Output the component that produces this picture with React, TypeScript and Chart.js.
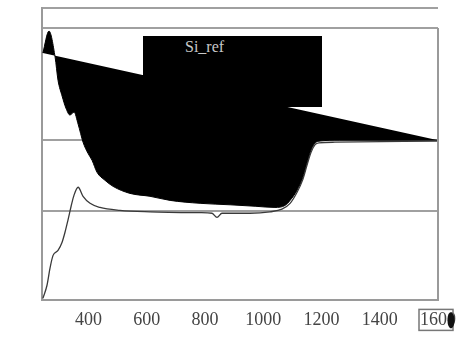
import React, { useEffect, useRef } from "react";
import { Chart, registerables } from "chart.js";

Chart.register(...registerables);

// Reference spectrum (filled shape, closed by a chord back to its first point)
const refWavelength = [
  243, 264, 285, 295, 309, 322, 336, 350, 364, 381, 398, 412, 429, 456, 484, 542,
  611, 680, 783, 886, 972, 1040, 1075, 1092, 1116, 1136, 1150, 1164, 1178, 1195, 1263, 1600,
];
const refValue = [
  84.6, 92.1, 83.2, 75.3, 69.9, 65.8, 63.4, 64.4, 60.3, 54.1, 50.3, 47.9, 43.8, 41.1, 39.0, 36.6,
  35.6, 34.2, 33.2, 32.7, 32.2, 31.8, 32.5, 34.2, 37.7, 42.1, 46.9, 51.4, 53.8, 54.5, 54.8, 54.8,
];

// Sample spectrum (thin line)
const sampleWavelength = [
  243, 257, 268, 278, 295, 309, 319, 329, 340, 350, 364, 381, 405, 439, 508, 611,
  783, 824, 841, 858, 954, 1023, 1064, 1092, 1116, 1136, 1150, 1164, 1178, 1191, 1246, 1600,
];
const sampleValue = [
  0.7, 5.1, 11.3, 15.4, 17.1, 19.9, 23.3, 27.4, 32.2, 36.0, 38.7, 35.6, 33.2, 31.8, 30.8, 30.3,
  30.0, 29.8, 28.4, 29.8, 29.8, 30.3, 31.2, 33.2, 37.0, 41.4, 46.2, 50.7, 53.3, 53.9, 54.1, 54.5,
];

const xTicks = [400, 600, 800, 1000, 1200, 1400, 1600];
const yGridValues = [0, 30.5, 54.8, 93.2, 100];
const legendLabel = "Si_ref";

export default function App() {
  const canvasRef = useRef<HTMLCanvasElement | null>(null);

  useEffect(() => {
    if (!canvasRef.current) return;
    const refPts = refWavelength.map((x, i) => ({ x, y: refValue[i] }));
    const samplePts = sampleWavelength.map((x, i) => ({ x, y: sampleValue[i] }));
    const chordPts = [refPts[0], refPts[refPts.length - 1]];

    const framePlugin = {
      id: "frame",
      afterDraw(chart: any) {
        const { ctx, chartArea, scales } = chart;
        const yTop = scales.y.getPixelForValue(yGridValues[3]);
        ctx.save();
        ctx.strokeStyle = "#9a9a9a";
        ctx.lineWidth = 2;
        ctx.beginPath();
        ctx.moveTo(chartArea.right, yTop);
        ctx.lineTo(chartArea.right, chartArea.bottom);
        ctx.stroke();
        // box around last tick label
        const xl = scales.x.getPixelForValue(xTicks[xTicks.length - 1]);
        ctx.strokeStyle = "#777";
        ctx.lineWidth = 1.5;
        ctx.strokeRect(xl - 19, chartArea.bottom + 9, 34, 21);
        ctx.fillStyle = "#111";
        ctx.beginPath();
        ctx.ellipse(xl + 13, chartArea.bottom + 20, 3.5, 8, 0, 0, Math.PI * 2);
        ctx.fill();
        ctx.restore();
      },
    };

    const chart = new Chart(canvasRef.current, {
      type: "line",
      data: {
        datasets: [
          {
            label: "sample",
            data: samplePts,
            borderColor: "#3a3a3a",
            borderWidth: 1.3,
            pointRadius: 0,
            fill: false,
            cubicInterpolationMode: "monotone",
          },
          {
            label: legendLabel,
            data: refPts,
            borderColor: "#000",
            backgroundColor: "#000",
            borderWidth: 1,
            pointRadius: 0,
            fill: { target: 2, above: "#000", below: "#000" },
            cubicInterpolationMode: "monotone",
          },
          {
            label: "chord",
            data: chordPts,
            borderWidth: 0,
            borderColor: "rgba(0,0,0,0)",
            pointRadius: 0,
            fill: false,
          },
        ],
      },
      options: {
        animation: false,
        responsive: false,
        parsing: false as any,
        layout: { padding: { left: 42, right: 22, top: 8, bottom: -2 } },
        plugins: { legend: { display: false }, tooltip: { enabled: false } },
        scales: {
          x: {
            type: "linear",
            min: 240,
            max: 1600,
            afterBuildTicks: (axis: any) => {
              axis.ticks = xTicks.map((v) => ({ value: v }));
            },
            afterFit: (axis: any) => {
              axis.paddingLeft = 0;
              axis.paddingRight = 0;
            },
            ticks: {
              autoSkip: false,
              maxRotation: 0,
              padding: 9,
              color: "#444",
              font: { family: "'Liberation Serif', serif", size: 18 },
              callback: (v: any) => String(v),
            },
            grid: { display: false, drawTicks: false },
            border: { display: true, color: "#9a9a9a", width: 2 },
          },
          y: {
            type: "linear",
            min: 0,
            max: 100,
            afterBuildTicks: (axis: any) => {
              axis.ticks = yGridValues.map((v) => ({ value: v }));
            },
            ticks: { display: false },
            grid: { color: "#a0a0a0", lineWidth: 2, drawTicks: false },
            border: { display: true, color: "#9a9a9a", width: 2 },
          },
        },
      },
      plugins: [framePlugin],
    });
    return () => chart.destroy();
  }, []);

  return (
    <div style={{ position: "absolute", left: 0, top: 0, width: 460, height: 338, background: "#fff" }}>
      <canvas ref={canvasRef} width={460} height={338} />
      <div
        style={{
          position: "absolute",
          left: 143,
          top: 36,
          width: 179,
          height: 71,
          background: "#000",
          color: "#c8c8c8",
          fontFamily: "'Liberation Serif', serif",
          fontSize: 16,
          lineHeight: "20px",
          boxSizing: "border-box",
          paddingLeft: 42,
          paddingTop: 1,
        }}
      >
        {legendLabel}
      </div>
    </div>
  );
}
